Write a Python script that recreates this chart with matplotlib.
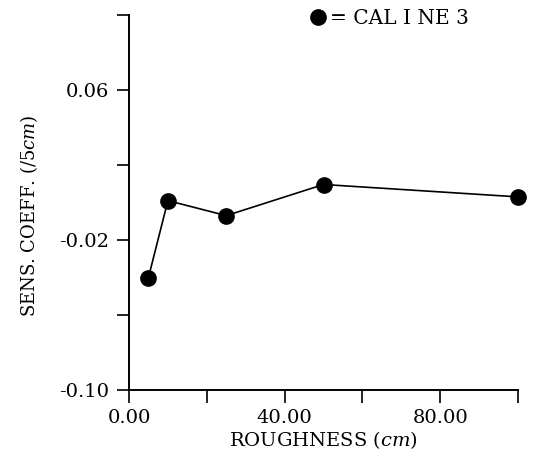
import matplotlib
matplotlib.use("Agg")
import matplotlib.pyplot as plt
from matplotlib.ticker import FixedLocator, FixedFormatter

plt.rcParams['font.family'] = 'DejaVu Serif'
plt.rcParams['mathtext.fontset'] = 'dejavuserif'

# sensitivity coefficient vs surface roughness
roughness = [5, 10, 25, 50, 100]
sens_coeff = [-0.040, 0.001, -0.007, 0.0096, 0.003]

x_major = [0, 40, 80]
x_major_labels = ["0.00", "40.00", "80.00"]
x_minor = [20, 60, 100]
y_major = [-0.10, -0.02, 0.06]
y_major_labels = ["-0.10", "-0.02", "0.06"]
y_minor = [-0.06, 0.02, 0.10]

fig = plt.figure(figsize=(5.39, 4.61), dpi=100)
ax = fig.add_axes([129/539, 1 - 390/461, (518 - 129)/539, (390 - 15)/461])

ax.plot(roughness, sens_coeff, color='black', lw=1.2, marker='o', ms=11,
        mfc='black', mec='black', label='= CAL I NE 3', clip_on=False)

ax.set_xlim(0, 100)
ax.set_ylim(-0.10, 0.10)
ax.spines['top'].set_visible(False)
ax.spines['right'].set_visible(False)
for s in ['left', 'bottom']:
    ax.spines[s].set_linewidth(1.4)

ax.xaxis.set_major_locator(FixedLocator(x_major))
ax.xaxis.set_major_formatter(FixedFormatter(x_major_labels))
ax.xaxis.set_minor_locator(FixedLocator(x_minor))
ax.yaxis.set_major_locator(FixedLocator(y_major))
ax.yaxis.set_major_formatter(FixedFormatter(y_major_labels))
ax.yaxis.set_minor_locator(FixedLocator(y_minor))
ax.tick_params(which='both', direction='out', length=9, width=1.2,
               labelsize=14)
ax.tick_params(axis='x', pad=5)
ax.tick_params(axis='y', pad=5)

ax.set_xlabel(r"ROUGHNESS $(cm)$", fontsize=14, labelpad=1)
ax.set_ylabel(r"SENS. COEFF. $(/5cm)$", fontsize=13)
ax.yaxis.set_label_coords(-0.228, 0.465)

ax.legend(loc='upper left', bbox_to_anchor=(0.425, 1.065), frameon=False,
          fontsize=14.5, handlelength=0.6, handletextpad=0.25, numpoints=1)

fig.savefig("out.png", dpi=100)
